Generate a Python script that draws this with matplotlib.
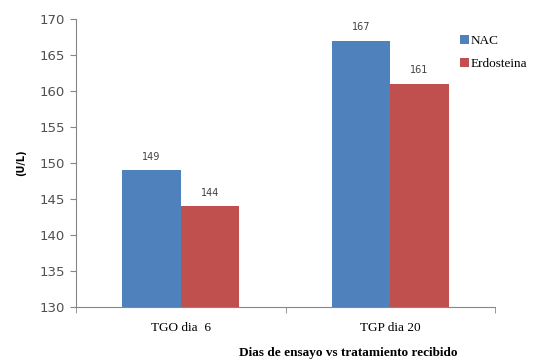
import matplotlib
matplotlib.use("Agg")
from matplotlib import pyplot as plt
import numpy as np

categories = ["TGO dia  6", "TGP dia 20"]
nac = [149, 167]
erdosteina = [144, 161]
yticks = [130, 135, 140, 145, 150, 155, 160, 165, 170]

fig = plt.figure(figsize=(5.5, 3.62), dpi=100)
ax = fig.add_axes([76 / 550, 1 - 307 / 362, 419 / 550, 288 / 362])

x = np.arange(len(categories))
w = 0.28
b1 = ax.bar(x - w / 2, nac, w, color="#4F81BD", label="NAC")
b2 = ax.bar(x + w / 2, erdosteina, w, color="#C0504D", label="Erdosteina")

for bars, vals in ((b1, nac), (b2, erdosteina)):
	for b, v in zip(bars, vals):
		ax.text(b.get_x() + b.get_width() / 2, v + 1.2, str(v), ha="center", va="bottom",
				fontsize=7, color="#404040")

ax.set_xlim(-0.5, 1.5)
ax.set_ylim(130, 170)
ax.set_yticks(yticks)
ax.set_yticklabels([str(t) for t in yticks], fontsize=9.5, color="#505050", family="DejaVu Sans")
ax.set_xticks(x)
ax.set_xticklabels(categories, fontsize=9.5, family="Liberation Serif")
ax.set_xticks([-0.5, 0.5, 1.5], minor=True)
ax.tick_params(axis="x", which="major", length=0, pad=11)
ax.tick_params(axis="x", which="minor", length=4, color="#868686", direction="out")
ax.tick_params(axis="y", length=4, color="#868686", direction="out", pad=4)

for s in ("top", "right"):
	ax.spines[s].set_visible(False)
for s in ("left", "bottom"):
	ax.spines[s].set_color("#868686")

ax.set_xlabel("Dias de ensayo vs tratamiento recibido", fontsize=9.5, family="Liberation Serif",
			  fontweight="bold")
ax.xaxis.set_label_coords(0.65, -0.14)
ax.set_ylabel("(U/L)", fontsize=7, fontweight="bold")
ax.yaxis.set_label_coords(-0.118, 0.5)

fig.legend(loc="upper left", bbox_to_anchor=(448 / 550, 1 - 23 / 362), frameon=False,
		   prop={"family": "Liberation Serif", "size": 9.5},
		   handlelength=0.7, handleheight=0.7, handletextpad=0.1, labelspacing=0.8)

fig.savefig("out.png", dpi=100)
